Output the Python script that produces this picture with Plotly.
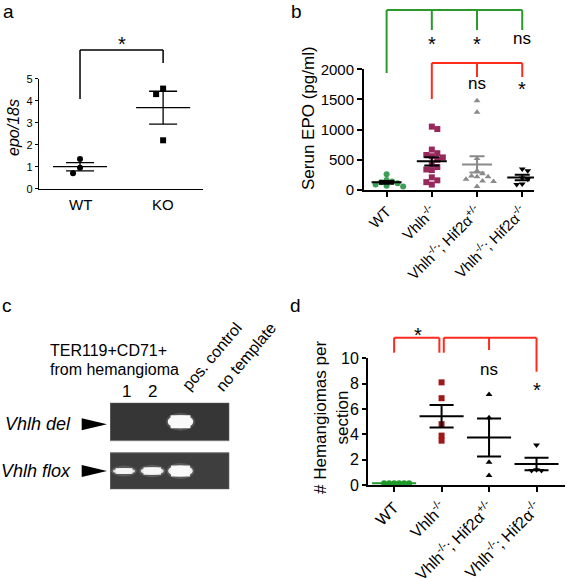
import plotly.graph_objects as go
import numpy as np

W, H = 567, 578

# ---------------- data ----------------
# panel a
a_groups = ["WT", "KO"]
a_wt = [1.35, 0.95, 0.70]
a_ko = [4.55, 4.30, 2.20]
a_yticks = [0, 1, 2, 3, 4, 5]
a_sig = ["*"]

# panel b
grp_labels = ["WT", "Vhlh<sup>-/-</sup>", "Vhlh<sup>-/-</sup>; Hif2α<sup>+/-</sup>",
              "Vhlh<sup>-/-</sup>; Hif2α<sup>-/-</sup>"]
b_wt = [260, 165, 140, 130, 110, 90, 70, 60]
b_vhlh = [1050, 1010, 670, 610, 580, 560, 540, 500, 430, 380, 340, 330, 210, 160, 130, 90]
b_hifhet = [1480, 1290, 520, 320, 270, 230, 220, 220, 180, 150, 140, 60]
b_hifko = [350, 320, 200, 180, 100, 90]
b_yticks = [0, 500, 1000, 1500, 2000]
b_sig_vs_wt = ["*", "*", "ns"]
b_sig_vs_vhlh = ["ns", "*"]

# panel c (gel)
c_lanes = ["1", "2", "pos. control", "no template"]
c_rows = ["Vhlh del", "Vhlh flox"]
c_del = [0.0, 0.0, 1.0, 0.0]
c_flox = [0.30, 0.45, 0.80, 0.0]

# panel d
d_wt = [0.13, 0.13, 0.13, 0.13, 0.13, 0.13]
d_vhlh = [8.1, 6.85, 4.8, 3.9, 3.5]
d_hifhet = [7.15, 5.3, 1.8, 0.75]
d_hifko = [3.15, 1.2, 1.15, 1.15]
d_yticks = [0, 2, 4, 6, 8, 10]
d_sig_vs_wt = ["*"]
d_sig_vs_vhlh = ["ns", "*"]

FONT = "Arial, Liberation Sans, sans-serif"


def px(p):
    return p / W


def py(p):
    return 1 - p / H


def swarm(vals, center, ppx, ppy, step, thr):
    placed, xs = [], []
    cands = [0.0] + [s * i * step for i in range(1, 30) for s in (1, -1)]
    for v in vals:
        yp = v * ppy
        for c in cands:
            if all((c - xo) ** 2 + (yp - yo) ** 2 >= thr ** 2 for xo, yo in placed):
                break
        placed.append((c, yp))
        xs.append(center + c / ppx)
    return xs


def mean_sem(vals):
    v = np.asarray(vals, float)
    m = v.mean()
    s = v.std(ddof=1) / np.sqrt(len(v)) if len(v) > 1 else 0.0
    return m, s


def errbar(vals, c, hw, cw):
    m, s = mean_sem(vals)
    xs = [c - hw, c + hw, None, c, c, None, c - cw, c + cw, None, c - cw, c + cw]
    ys = [m, m, None, m - s, m + s, None, m + s, m + s, None, m - s, m - s]
    if s == 0:
        xs, ys = xs[:2], ys[:2]
    return xs, ys


fig = go.Figure()

# ---------------- panel a ----------------
A_PPX, A_PPY = 83.0, 22.0
for i, (vals, sym) in enumerate([(a_wt, "circle"), (a_ko, "square")]):
    xs = swarm(vals, i, A_PPX, A_PPY, -7, 7)
    fig.add_trace(go.Scatter(x=xs, y=vals, mode="markers", xaxis="x", yaxis="y",
                             marker=dict(symbol=sym, size=6, color="black"),
                             cliponaxis=False, hoverinfo="skip"))
    ex, ey = errbar(vals, i, 27 / A_PPX, 14 / A_PPX)
    fig.add_trace(go.Scatter(x=ex, y=ey, mode="lines", xaxis="x", yaxis="y",
                             line=dict(color="black", width=1.3), hoverinfo="skip"))

# ---------------- panel b ----------------
B_PPX, B_PPY = 45.2, 120.7 / 2000
b_sets = [
    (b_wt, "circle", "#3e9e58", "black"),
    (b_vhlh, "square", "#98285c", "black"),
    (b_hifhet, "triangle-up", "#8a8a8a", "#8a8a8a"),
    (b_hifko, "triangle-down", "black", "black"),
]
for i, (vals, sym, col, lcol) in enumerate(b_sets):
    xs = swarm(vals, i, B_PPX, B_PPY, 5.5, 5.5)
    fig.add_trace(go.Scatter(x=xs, y=vals, mode="markers", xaxis="x2", yaxis="y2",
                             marker=dict(symbol=sym, size=6, color=col),
                             cliponaxis=False, hoverinfo="skip"))
for i, (vals, sym, col, lcol) in enumerate(b_sets):
    ex, ey = errbar(vals, i, 15 / B_PPX, 7.5 / B_PPX)
    fig.add_trace(go.Scatter(x=ex, y=ey, mode="lines", xaxis="x2", yaxis="y2",
                             line=dict(color=lcol, width=2), hoverinfo="skip"))

# ---------------- panel d ----------------
D_PPX, D_PPY = 47.4, 12.67
d_sets = [
    (d_wt, "circle", "#1f9a2a", "#1f9a2a"),
    (d_vhlh, "square", "#a01818", "black"),
    (d_hifhet, "triangle-up", "black", "black"),
    (d_hifko, "triangle-down", "black", "black"),
]
for i, (vals, sym, col, lcol) in enumerate(d_sets):
    xs = swarm(vals, i, D_PPX, D_PPY, 5, 5)
    fig.add_trace(go.Scatter(x=xs, y=vals, mode="markers", xaxis="x3", yaxis="y3",
                             marker=dict(symbol=sym, size=6, color=col),
                             cliponaxis=False, hoverinfo="skip"))
for i, (vals, sym, col, lcol) in enumerate(d_sets):
    ex, ey = errbar(vals, i, 22 / D_PPX, 12 / D_PPX)
    fig.add_trace(go.Scatter(x=ex, y=ey, mode="lines", xaxis="x3", yaxis="y3",
                             line=dict(color=lcol, width=2), hoverinfo="skip",
                             cliponaxis=False))

# ---------------- panel c gel (invisible axes) ----------------
fig.add_trace(go.Scatter(x=[1], y=[0], mode="markers", xaxis="x4", yaxis="y4",
                         marker=dict(size=1, opacity=0), hoverinfo="skip"))

shapes = []
annotations = []


def line(x0, y0, x1, y1, xref, yref, color, width=2):
    shapes.append(dict(type="line", x0=x0, y0=y0, x1=x1, y1=y1, xref=xref, yref=yref,
                       line=dict(color=color, width=width), layer="above"))


def text(x, y, t, size, xref="paper", yref="paper", xanchor="center", yanchor="middle",
         angle=0, color="black"):
    annotations.append(dict(x=x, y=y, text=t, xref=xref, yref=yref, showarrow=False,
                            xanchor=xanchor, yanchor=yanchor, textangle=angle,
                            font=dict(family=FONT, size=size, color=color)))


# bracket a
line(0, py(50), 1, py(50), "x", "paper", "black", 1.5)
line(0, py(50), 0, py(99), "x", "paper", "black", 1.5)
line(1, py(50), 1, py(63), "x", "paper", "black", 1.5)
text(0.5, py(44), a_sig[0], 20, xref="x")
for i, g in enumerate(a_groups):
    text(i, py(204), g, 15, xref="x")

# brackets b
G, R = "#2b9a2b", "#ff2b1c"
line(0, py(10), 3, py(10), "x2", "paper", G)
line(0, py(10), 0, py(73), "x2", "paper", G)
for k in (1, 2, 3):
    line(k, py(10), k, py(30), "x2", "paper", G)
line(1, py(63), 3, py(63), "x2", "paper", R)
line(1, py(63), 1, py(99), "x2", "paper", R)
for k in (2, 3):
    line(k, py(63), k, py(77), "x2", "paper", R)
for k, s in zip((1, 2, 3), b_sig_vs_wt):
    text(k, py(44 if s == "*" else 38.5), s, 20 if s == "*" else 17, xref="x2")
for k, s in zip((2, 3), b_sig_vs_vhlh):
    text(k, py(89.5 if s == "*" else 83.5), s, 20 if s == "*" else 17, xref="x2")

# brackets d
gap = 2.2 / D_PPX
line(0, py(337.7), 1 - gap, py(337.7), "x3", "paper", R)
line(0, py(337.7), 0, py(352.7), "x3", "paper", R)
line(1 - gap, py(337.7), 1 - gap, py(352.7), "x3", "paper", R)
line(1 + gap, py(337.7), 3, py(337.7), "x3", "paper", R)
line(1 + gap, py(337.7), 1 + gap, py(352.7), "x3", "paper", R)
line(2, py(337.7), 2, py(350), "x3", "paper", R)
line(3, py(337.7), 3, py(371.7), "x3", "paper", R)
text(0.5, py(335), d_sig_vs_wt[0], 20, xref="x3")
for k, s in zip((2, 3), d_sig_vs_vhlh):
    text(k, py(389.5 if s == "*" else 369), s, 20 if s == "*" else 17, xref="x3")

# gel boxes and bands (x4: lanes, y4: rows; del=1, flox=0)
ROW_PX = 49.3
for (y0, y1, fc) in [(0.615, 1.385, "#363636"), (-0.371, 0.371, "#3e3e3e")]:
    shapes.append(dict(type="rect", xref="x4", yref="y4", x0=0.504, x1=4.727, y0=y0, y1=y1,
                       fillcolor=fc, line=dict(color="#7a7a7a", width=1), layer="below"))
for row_y, inten in [(1, c_del), (0, c_flox)]:
    for lane, v in enumerate(inten, start=1):
        if v <= 0:
            continue
        hw = (0.75 + 0.15 * v) / 2
        th = (3 + 10 * v) / ROW_PX / 2
        shapes.append(dict(type="circle", xref="x4", yref="y4",
                           x0=lane - hw - 0.06, x1=lane + hw + 0.06,
                           y0=row_y - th - 0.05, y1=row_y + th + 0.05,
                           fillcolor="rgba(220,220,220,0.18)", line=dict(width=0), layer="above"))
        shapes.append(dict(type="circle", xref="x4", yref="y4",
                           x0=lane - hw, x1=lane + hw, y0=row_y - th, y1=row_y + th,
                           fillcolor="rgba(250,250,250,%.2f)" % (0.75 + 0.25 * v),
                           line=dict(width=0), layer="above"))
        shapes.append(dict(type="rect", xref="x4", yref="y4",
                           x0=lane - hw + 0.1, x1=lane + hw - 0.1, y0=row_y - th, y1=row_y + th,
                           fillcolor="rgba(250,250,250,%.2f)" % (0.75 + 0.25 * v),
                           line=dict(width=0), layer="above"))

# arrows
for row_y, lab in [(1, c_rows[0]), (0, c_rows[1])]:
    yc = row_y - (0.05 if row_y == 1 else 0.0)
    h = 6 / ROW_PX
    shapes.append(dict(type="path", xref="paper", yref="y4",
                       path="M %f,%f L %f,%f L %f,%f Z" % (px(81.7), yc + h, px(107), yc, px(81.7), yc - h),
                       fillcolor="black", line=dict(width=0)))
    text(px(73), yc, "<i>" + lab + "</i>", 18, yref="y4", xanchor="right")

text(px(48), py(350), "TER119+CD71+", 16, xanchor="left")
text(px(48), py(369), "from hemangioma", 16, xanchor="left")
text(1.1, py(391), c_lanes[0], 17, xref="x4")
text(2.0, py(391), c_lanes[1], 17, xref="x4")
text(px(176), py(397), c_lanes[2], 16, xanchor="left", yanchor="bottom", angle=-50)
text(px(210), py(397), c_lanes[3], 16, xanchor="left", yanchor="bottom", angle=-50)

# axis titles & panel letters
text(px(13), py(128), "<i>epo/18s</i>", 16, angle=-90)
text(px(308), py(118), "Serun EPO (pg/ml)", 17, angle=-90)
text(px(331), py(418), "# Hemangiomas per<br>section", 17, angle=-90)
for lx, ly, lt in [(8, 12, "a"), (296, 12, "b"), (7, 305, "c"), (295, 305, "d")]:
    text(px(lx), py(ly), lt, 19)

ax_common = dict(showline=True, linecolor="black", showgrid=False, zeroline=False,
                 ticks="outside", tickcolor="black", automargin=False)

fig.update_layout(
    template="none",
    width=W, height=H, margin=dict(l=0, r=0, t=0, b=0, pad=0),
    paper_bgcolor="white", plot_bgcolor="white", showlegend=False,
    font=dict(family=FONT, color="black"),
    xaxis=dict(domain=[px(39.3), px(203)], range=[-0.49, 1.48], anchor="y",
               showticklabels=False, showline=True, linecolor="black", linewidth=1.5,
               ticks="", showgrid=False, zeroline=False, automargin=False),
    yaxis=dict(domain=[py(188.7), py(78.7)], range=[0, 5], tickvals=a_yticks, anchor="x",
               linewidth=1.5, ticklen=3, tickwidth=1.2, tickfont=dict(size=11), **ax_common),
    xaxis2=dict(domain=[px(364), px(534)], range=[-0.5, 3.26], tickvals=[0, 1, 2, 3], anchor="y2",
                ticktext=grp_labels, tickangle=-45, linewidth=2, ticklen=5, tickwidth=2,
                tickfont=dict(size=15), **ax_common),
    yaxis2=dict(domain=[py(190), py(69.3)], range=[0, 2000], tickvals=b_yticks, anchor="x2",
                linewidth=2, ticklen=5, tickwidth=2, tickfont=dict(size=15), **ax_common),
    xaxis3=dict(domain=[px(368), px(565)], range=[-0.55, 3.6], tickvals=[0, 1, 2, 3], anchor="y3",
                ticktext=grp_labels, tickangle=-45, linewidth=2, ticklen=5, tickwidth=2,
                tickfont=dict(size=16), **ax_common),
    yaxis3=dict(domain=[py(485), py(358.3)], range=[0, 10], tickvals=d_yticks, anchor="x3",
                linewidth=2, ticklen=4, tickwidth=2, tickfont=dict(size=16), **ax_common),
    xaxis4=dict(domain=[px(110), px(229.3)], range=[0.504, 4.727], visible=False, anchor="y4"),
    yaxis4=dict(domain=[py(489.3), py(402.7)], range=[-0.371, 1.385], visible=False, anchor="x4"),
    shapes=shapes, annotations=annotations,
)

fig.write_html("out.html", config={"displayModeBar": False, "staticPlot": True},
               post_script="document.body.style.margin='0';")
